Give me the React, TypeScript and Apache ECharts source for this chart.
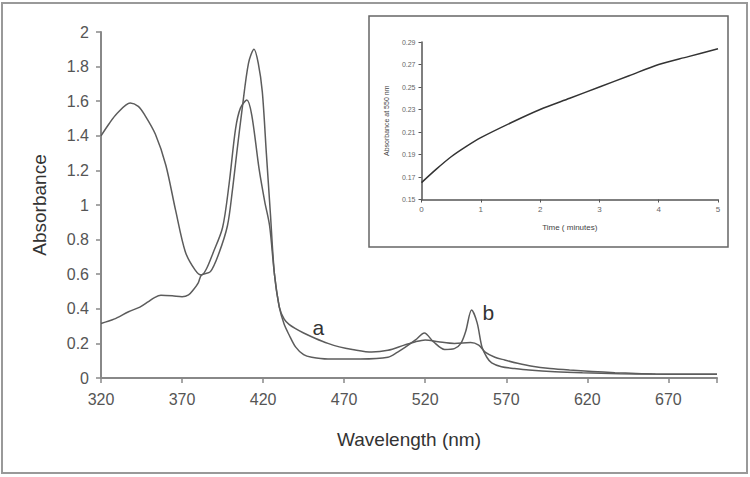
import React, { useEffect, useRef } from "react";
import * as echarts from "echarts";

// Main spectrum, curve a
const wavelengthsA = [320, 325, 330, 338, 343, 347, 353.5, 360, 366, 372, 378, 382, 385, 389, 395, 399, 403, 406, 410, 413, 417.5, 421, 424, 427, 430, 433, 436, 440, 445, 452, 460, 467, 475, 487, 497, 507, 514, 520, 528, 538, 548, 553, 557, 563, 569, 577, 586, 597, 609, 623, 637, 650, 662, 680, 700];
const absorbanceA = [1.40, 1.47, 1.53, 1.59, 1.57, 1.52, 1.41, 1.23, 0.97, 0.73, 0.625, 0.595, 0.63, 0.72, 0.87, 1.12, 1.44, 1.56, 1.607, 1.52, 1.21, 1.02, 0.88, 0.60, 0.41, 0.34, 0.31, 0.285, 0.26, 0.23, 0.20, 0.18, 0.165, 0.15, 0.16, 0.19, 0.21, 0.22, 0.21, 0.20, 0.205, 0.19, 0.15, 0.12, 0.104, 0.085, 0.068, 0.055, 0.046, 0.038, 0.031, 0.026, 0.023, 0.022, 0.022];

// Main spectrum, curve b
const wavelengthsB = [320, 328, 337, 344, 349, 353, 357, 364, 370, 374, 377, 380, 382, 387.5, 392.7, 398, 401, 404, 407, 411, 414.4, 417, 419.5, 422, 424.5, 427, 430, 433, 436, 440, 445, 450, 460, 480, 497, 503, 508, 514, 519.5, 525, 532, 538, 542, 545, 548.6, 552, 555, 558, 561, 567, 575, 584, 600, 617, 640, 660, 680, 700];
const absorbanceB = [0.315, 0.34, 0.383, 0.41, 0.44, 0.465, 0.478, 0.475, 0.47, 0.48, 0.51, 0.55, 0.595, 0.615, 0.72, 0.88, 1.08, 1.32, 1.55, 1.82, 1.90, 1.82, 1.655, 1.30, 0.95, 0.60, 0.41, 0.31, 0.25, 0.18, 0.135, 0.12, 0.11, 0.11, 0.12, 0.15, 0.18, 0.22, 0.26, 0.21, 0.165, 0.17, 0.20, 0.27, 0.393, 0.32, 0.18, 0.12, 0.087, 0.065, 0.055, 0.046, 0.036, 0.03, 0.025, 0.023, 0.022, 0.022];

// Inset: absorbance at 550 nm vs time
const timeMinutes = [0, 0.25, 0.5, 0.75, 1, 1.5, 2, 2.5, 3, 3.5, 4, 4.5, 5];
const absorbance550 = [0.165, 0.177, 0.188, 0.197, 0.205, 0.218, 0.230, 0.240, 0.250, 0.260, 0.270, 0.277, 0.284];

const xLabelValues = [320, 370, 420, 470, 520, 570, 620, 670];
const xTickValues = [320, 370, 420, 470, 520, 570, 620, 670, 700];
const insetYValues = [0.15, 0.17, 0.19, 0.21, 0.23, 0.25, 0.27, 0.29];

const FONT = "'Liberation Sans', Arial, sans-serif";

export default function App() {
  const ref = useRef<HTMLDivElement>(null);
  useEffect(() => {
    document.body.style.margin = "0";
    const chart = echarts.init(ref.current!, null, { renderer: "svg" });
    const pairs = (xs: number[], ys: number[]) => xs.map((x, i) => [x, ys[i]]);
    const lineColor = "#5c5c5c";
    chart.setOption({
      animation: false,
      backgroundColor: "#ffffff",
      textStyle: { fontFamily: FONT },
      grid: [
        { left: 101, top: 32, right: 33, bottom: 99 },
        { left: 421.5, top: 42, right: 32, bottom: 277.5 },
      ],
      xAxis: [
        {
          type: "value", gridIndex: 0, min: 320, max: 700,
          name: "Wavelength (nm)", nameLocation: "middle", nameGap: 52,
          nameTextStyle: { fontSize: 19, color: "#333", fontFamily: FONT },
          axisLine: { lineStyle: { color: "#888", width: 2 } },
          axisTick: { length: 5, lineStyle: { color: "#888", width: 1.5 }, customValues: xTickValues },
          axisLabel: { fontSize: 16, color: "#555", margin: 13, customValues: xLabelValues, fontFamily: FONT },
          splitLine: { show: false },
        },
        {
          type: "value", gridIndex: 1, min: 0, max: 5, interval: 1,
          name: "Time ( minutes)", nameLocation: "middle", nameGap: 24,
          nameTextStyle: { fontSize: 8, color: "#444", fontFamily: FONT },
          axisLine: { lineStyle: { color: "#555", width: 1.5 } },
          axisTick: { length: 3, lineStyle: { color: "#555" } },
          axisLabel: { fontSize: 8, color: "#666", margin: 6, fontFamily: FONT },
          splitLine: { show: false },
        },
      ],
      yAxis: [
        {
          type: "value", gridIndex: 0, min: 0, max: 2, interval: 0.2,
          name: "Absorbance", nameLocation: "middle", nameGap: 52, nameRotate: 90,
          nameTextStyle: { fontSize: 19, color: "#333", fontFamily: FONT },
          axisLine: { show: true, lineStyle: { color: "#888", width: 2 } },
          axisTick: { show: true, length: 5, lineStyle: { color: "#888", width: 1.5 } },
          axisLabel: { fontSize: 16, color: "#555", margin: 12, fontFamily: FONT },
          splitLine: { show: false },
        },
        {
          type: "value", gridIndex: 1, min: 0.15, max: 0.29,
          name: "Absorbance at 550 nm", nameLocation: "middle", nameGap: 32, nameRotate: 90,
          nameTextStyle: { fontSize: 7, color: "#444", fontFamily: FONT },
          axisLine: { show: true, lineStyle: { color: "#555", width: 1.5 } },
          axisTick: { show: true, length: 3, lineStyle: { color: "#555" }, customValues: insetYValues },
          axisLabel: {
            fontSize: 7, color: "#666", margin: 6, fontFamily: FONT,
            customValues: insetYValues,
            formatter: (v: number) => v.toFixed(2),
          },
          splitLine: { show: false },
        },
      ],
      series: [
        {
          type: "line", xAxisIndex: 0, yAxisIndex: 0, data: pairs(wavelengthsA, absorbanceA),
          smooth: 0.3, showSymbol: false, symbol: "none",
          lineStyle: { color: lineColor, width: 1.5 },
          markPoint: {
            symbol: "circle", symbolSize: 1, itemStyle: { color: "rgba(0,0,0,0)" },
            label: { show: true, position: "inside", fontSize: 21, color: "#333", fontFamily: FONT },
            data: [{ coord: [454, 0.29], value: "a", label: { formatter: "a" } }],
          },
        },
        {
          type: "line", xAxisIndex: 0, yAxisIndex: 0, data: pairs(wavelengthsB, absorbanceB),
          smooth: 0.3, showSymbol: false, symbol: "none",
          lineStyle: { color: lineColor, width: 1.5 },
          markPoint: {
            symbol: "circle", symbolSize: 1, itemStyle: { color: "rgba(0,0,0,0)" },
            label: { show: true, position: "inside", fontSize: 21, color: "#333", fontFamily: FONT },
            data: [{ coord: [559, 0.38], value: "b", label: { formatter: "b" } }],
          },
        },
        {
          type: "line", xAxisIndex: 1, yAxisIndex: 1, data: pairs(timeMinutes, absorbance550),
          smooth: 0.3, showSymbol: false, symbol: "none",
          lineStyle: { color: "#333", width: 1.5 },
        },
      ],
      graphic: [
        {
          type: "rect", shape: { x: 2, y: 3, width: 745, height: 470 },
          style: { fill: "none", stroke: "#999", lineWidth: 2 }, silent: true,
        },
        {
          type: "rect", shape: { x: 369, y: 16, width: 359, height: 231 },
          style: { fill: "none", stroke: "#666", lineWidth: 1.5 }, silent: true,
        },
      ],
    });
    return () => chart.dispose();
  }, []);
  return <div ref={ref} style={{ width: 750, height: 477 }} />;
}
